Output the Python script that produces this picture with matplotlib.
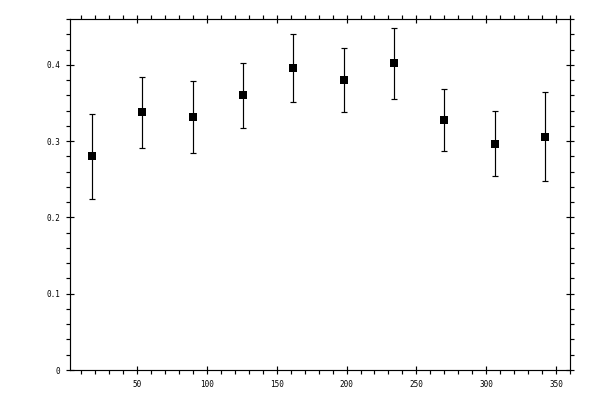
import matplotlib
matplotlib.use("Agg")
import matplotlib.pyplot as plt
from matplotlib.ticker import MultipleLocator, FormatStrFormatter

angles = [18, 54, 90, 126, 162, 198, 234, 270, 306, 342]
values = [0.280, 0.338, 0.332, 0.360, 0.396, 0.380, 0.402, 0.328, 0.297, 0.306]
errors = [0.056, 0.0465, 0.0475, 0.043, 0.045, 0.042, 0.0465, 0.0405, 0.0425, 0.0587]

fig = plt.figure(figsize=(6, 4), dpi=100)
ax = fig.add_axes([0.116, 0.075, 0.8345, 0.877])

cont = ax.errorbar(angles, values, yerr=errors, fmt='s', color='black',
                   markersize=5.4, elinewidth=0.85,
                   capsize=2.0, capthick=0.85)
cont[0].set_markeredgewidth(0)

ax.set_xlim(2, 360)
ax.set_ylim(0, 0.46)

ax.xaxis.set_major_locator(MultipleLocator(50))
ax.xaxis.set_minor_locator(MultipleLocator(10))
ax.yaxis.set_major_locator(MultipleLocator(0.1))
ax.yaxis.set_minor_locator(MultipleLocator(0.02))

def yfmt(v, pos):
    if abs(v) < 1e-9:
        return "0"
    return ("%.1f" % v)
ax.yaxis.set_major_formatter(plt.FuncFormatter(yfmt))
ax.xaxis.set_major_formatter(FormatStrFormatter('%d'))

for s in ax.spines.values():
    s.set_linewidth(0.85)

ax.tick_params(which='major', direction='inout', length=6, width=0.85,
               top=True, right=True, labelsize=5.5, pad=4)
ax.tick_params(which='minor', direction='out', length=3, width=0.85,
               top=True, right=True)
for lab in ax.get_xticklabels() + ax.get_yticklabels():
    lab.set_family('DejaVu Sans Mono')

fig.savefig("out.png", dpi=100)
